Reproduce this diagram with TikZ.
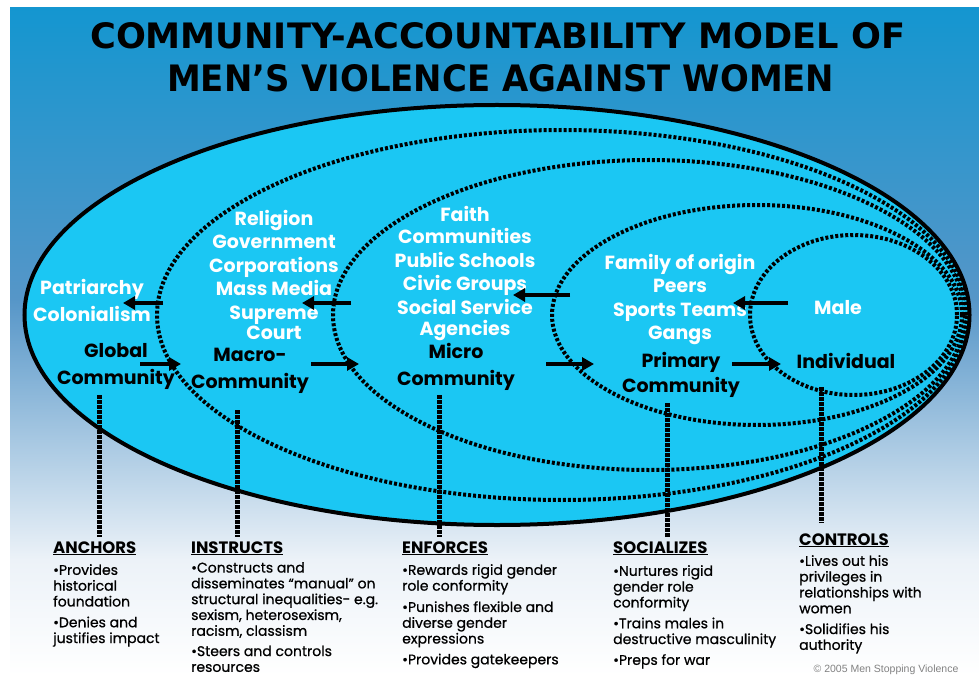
\documentclass[tikz,border=0pt]{standalone}
\usepackage{fontspec}
\setmainfont{Poppins}
\newfontfamily\bodyfont[FakeBold=0.7]{Poppins}
\newfontfamily\titlefont{DejaVu Sans}
\newfontfamily\copyfont{Liberation Sans}
\usetikzlibrary{arrows.meta}
\definecolor{ellfill}{RGB}{27,199,243}
\definecolor{bgtop}{RGB}{20,150,208}
\definecolor{bgmid}{RGB}{86,150,200}
\definecolor{bglow}{RGB}{236,242,248}
\definecolor{copygray}{RGB}{130,130,130}
\begin{document}
\begin{tikzpicture}[x=1pt,y=-1pt,
  wlab/.style={text=white,font=\fontsize{19}{23.5}\selectfont\bfseries,align=center,inner sep=0},
  blab/.style={text=black,font=\fontsize{19}{27}\selectfont\bfseries,align=center,inner sep=0},
  dotell/.style={line width=4pt,dash pattern=on 3pt off 2pt},
  vconn/.style={line width=5pt,dash pattern=on 3.5pt off 1.5pt},
  arr/.style={line width=4.5pt,-{Triangle[length=12pt,width=13pt]}},
  headtxt/.style={font=\fontsize{16.5}{18}\selectfont\bfseries,inner sep=0,anchor=base west},
  bodytxt/.style={font=\bodyfont\fontsize{14}{15.8}\selectfont,align=left,inner sep=0,anchor=north west}]
\useasboundingbox (0,0) rectangle (979,676);
\fill[white] (0,0) rectangle (979,676);
\shade[top color=bgtop,bottom color=bgmid] (10,8) rectangle (979,300);
\shade[top color=bgmid,bottom color=bglow] (10,299.5) rectangle (979,560);
\shade[top color=bglow,bottom color=white] (10,559.5) rectangle (979,676);

% title
\node[anchor=base west,inner sep=0] (t1) at (90,49) {\resizebox{815pt}{26pt}{\titlefont\bfseries COMMUNITY-ACCOUNTABILITY MODEL OF}};
\node[anchor=base west,inner sep=0] (t2) at (167,92) {\resizebox{667pt}{27pt}{\titlefont\bfseries MEN’S VIOLENCE AGAINST WOMEN}};

% ellipses
\fill[ellfill] (497,315) ellipse [x radius=472.5pt,y radius=210pt];
\draw[dotell] (562,315) ellipse [x radius=405pt,y radius=185pt];
\draw[dotell] (649,315) ellipse [x radius=316pt,y radius=155pt];
\draw[dotell] (757,315) ellipse [x radius=205pt,y radius=110pt];
\draw[dotell] (853.5,315) ellipse [x radius=103.5pt,y radius=80pt];
\draw[line width=4pt] (497,315) ellipse [x radius=472.5pt,y radius=210pt];

% labels
\node[wlab] (glw) at (92,300.5) {Patriarchy\\[3.5pt]Colonialism};
\node[blab] (glb) at (116,366.5) {Global\\Community};
\node[wlab] (maw) at (274,275) {Religion\\Government\\Corporations\\Mass Media\\Supreme\\[-3pt]Court};
\node[blab] (mab) at (250,371) {Macro-\\Community};
\node[wlab] (miw) at (465,274) {Faith\\[-1.5pt]Communities\\Public Schools\\Civic Groups\\Social Service\\[-2pt]Agencies};
\node[blab] (mib) at (456,367) {Micro\\Community};
\node[wlab] (prw) at (680,299.5) {Family of origin\\Peers\\Sports Teams\\Gangs};
\node[blab] (prb) at (681,374.5) {Primary\\[-2pt]Community};
\node[wlab] (inw) at (838,308) {Male};
\node[blab] (inb) at (846,361) {Individual};

% arrows
\coordinate (la1s) at (163,303); \coordinate (la1e) at (123,303);
\coordinate (la2s) at (351,303); \coordinate (la2e) at (302,303);
\coordinate (la3s) at (570,295); \coordinate (la3e) at (513,295);
\coordinate (la4s) at (788,303); \coordinate (la4e) at (733,303);
\coordinate (ra1s) at (140,364); \coordinate (ra1e) at (181,364);
\coordinate (ra2s) at (311,364); \coordinate (ra2e) at (359,364);
\coordinate (ra3s) at (546,364); \coordinate (ra3e) at (594,364);
\coordinate (ra4s) at (732,364); \coordinate (ra4e) at (781,364);
\foreach \a in {la1,la2,la3,la4,ra1,ra2,ra3,ra4} \draw[arr] (\a s) -- (\a e);

% bottom texts
\node[headtxt] (h1) at (53,553) {\underline{ANCHORS}};
\node[headtxt] (h2) at (191,553) {\underline{INSTRUCTS}};
\node[headtxt] (h3) at (402,553) {\underline{ENFORCES}};
\node[headtxt] (h4) at (613,553) {\underline{SOCIALIZES}};
\node[headtxt] (h5) at (799,545) {\underline{CONTROLS}};

\node[bodytxt] (b1) at (53,564) {•Provides\\historical\\foundation\\[5pt]•Denies and\\justifies impact};
\node[bodytxt] (b2) at (191,562) {•Constructs and\\disseminates “manual” on\\structural inequalities- e.g.\\sexism, heterosexism,\\racism, classism\\[4.5pt]•Steers and controls\\resources};
\node[bodytxt] (b3) at (402,564) {•Rewards rigid gender\\role conformity\\[5.5pt]•Punishes flexible and\\diverse gender\\expressions\\[5pt]•Provides gatekeepers};
\node[bodytxt] (b4) at (613,565) {•Nurtures rigid\\gender role\\conformity\\[5pt]•Trains males in\\destructive masculinity\\[5pt]•Preps for war};
\node[bodytxt] (b5) at (799,555) {•Lives out his\\privileges in\\relationships with\\women\\[5pt]•Solidifies his\\authority};

% vertical connectors
\coordinate (v1) at (99,395);
\coordinate (v2) at (237,410);
\coordinate (v3) at (439,395);
\coordinate (v4) at (667,403);
\coordinate (v5) at (821,387);
\draw[vconn] (v1) -- ([yshift=4pt]v1 |- h1.north);
\draw[vconn] (v2) -- ([yshift=4pt]v2 |- h2.north);
\draw[vconn] (v3) -- ([yshift=4pt]v3 |- h3.north);
\draw[vconn] (v4) -- ([yshift=4pt]v4 |- h4.north);
\draw[vconn] (v5) -- ([yshift=10pt]v5 |- h5.north);

\node[text=copygray,font=\copyfont\fontsize{10.5}{12}\selectfont,inner sep=0] (cp) at (886,670) {© 2005 Men Stopping Violence};
\end{tikzpicture}
\end{document}
